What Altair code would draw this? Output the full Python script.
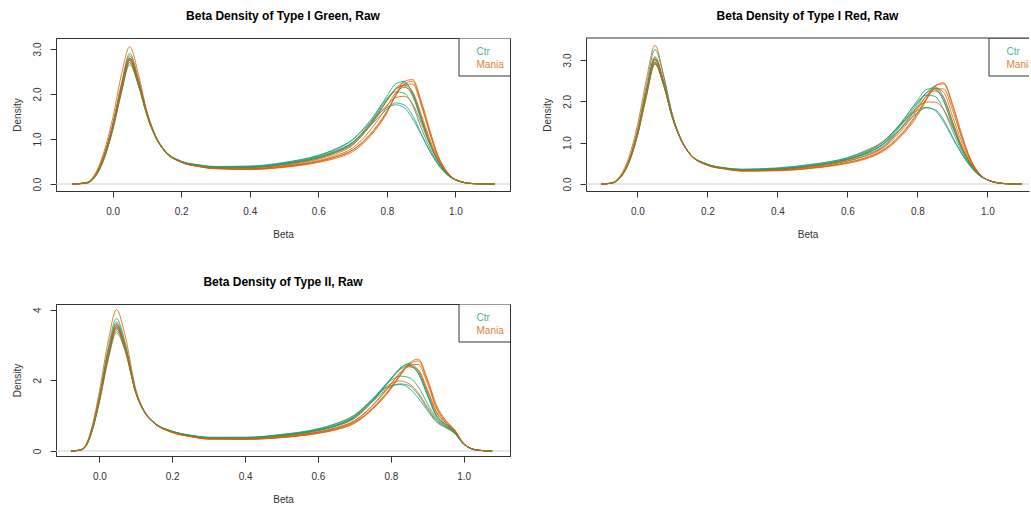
import altair as alt
import pandas as pd

FONT = "Liberation Sans"
GROUPS = ["Ctr", "Mania"]
COLORS = ["#1B9E77", "#D95F02"]
X_TICKS = [0.0, 0.2, 0.4, 0.6, 0.8, 1.0]

# ---------- Panel 1: Type I Green ----------
X_GREEN = [-0.117, -0.075, -0.05, -0.025, 0.0, 0.025, 0.05, 0.075, 0.1, 0.125, 0.15, 0.2, 0.25, 0.3, 0.4,
           0.5, 0.6, 0.65, 0.7, 0.75, 0.8, 0.825, 0.85, 0.875, 0.9, 0.925, 0.95, 0.975, 1.0, 1.05, 1.115]
GREEN_CTR = [
    [0, 0.03, 0.18, 0.58, 1.22, 2.05, 2.7, 2.2, 1.52, 1.04, 0.75, 0.5, 0.42, 0.38, 0.39, 0.46, 0.61, 0.74, 0.93, 1.33, 1.88, 2.1, 2.18, 1.95, 1.42, 0.9, 0.5, 0.24, 0.1, 0.01, 0],
    [0, 0.03, 0.2, 0.64, 1.32, 2.2, 2.9, 2.35, 1.6, 1.08, 0.77, 0.5, 0.42, 0.38, 0.38, 0.45, 0.6, 0.72, 0.92, 1.28, 1.66, 1.8, 1.76, 1.52, 1.12, 0.73, 0.42, 0.21, 0.09, 0.01, 0],
    [0, 0.02, 0.17, 0.55, 1.18, 2.0, 2.65, 2.2, 1.54, 1.06, 0.76, 0.5, 0.41, 0.37, 0.37, 0.44, 0.58, 0.7, 0.88, 1.28, 1.85, 2.12, 2.25, 2.02, 1.48, 0.92, 0.5, 0.23, 0.09, 0.01, 0],
    [0, 0.03, 0.19, 0.6, 1.26, 2.12, 2.8, 2.28, 1.56, 1.05, 0.74, 0.49, 0.41, 0.37, 0.38, 0.47, 0.63, 0.77, 0.98, 1.4, 1.9, 2.05, 2.02, 1.75, 1.25, 0.8, 0.45, 0.22, 0.09, 0.01, 0],
    [0, 0.02, 0.18, 0.57, 1.22, 2.06, 2.75, 2.25, 1.55, 1.06, 0.76, 0.51, 0.43, 0.39, 0.4, 0.48, 0.64, 0.78, 0.99, 1.36, 1.7, 1.76, 1.7, 1.45, 1.1, 0.74, 0.44, 0.22, 0.1, 0.01, 0],
    [0, 0.03, 0.19, 0.6, 1.25, 2.1, 2.78, 2.26, 1.55, 1.05, 0.75, 0.5, 0.41, 0.37, 0.37, 0.44, 0.59, 0.72, 0.92, 1.35, 1.95, 2.22, 2.28, 2.0, 1.45, 0.9, 0.5, 0.24, 0.1, 0.01, 0],
]
GREEN_MANIA = [
    [0, 0.04, 0.24, 0.72, 1.45, 2.4, 3.05, 2.45, 1.62, 1.08, 0.76, 0.48, 0.39, 0.34, 0.33, 0.39, 0.5, 0.6, 0.75, 1.08, 1.6, 1.95, 2.22, 2.28, 1.8, 1.15, 0.6, 0.27, 0.1, 0.01, 0],
    [0, 0.03, 0.2, 0.62, 1.28, 2.15, 2.8, 2.3, 1.58, 1.07, 0.76, 0.49, 0.39, 0.34, 0.32, 0.37, 0.48, 0.57, 0.72, 1.05, 1.58, 1.98, 2.28, 2.32, 1.85, 1.2, 0.62, 0.28, 0.1, 0.01, 0],
    [0, 0.02, 0.17, 0.56, 1.2, 2.02, 2.7, 2.22, 1.54, 1.05, 0.75, 0.49, 0.4, 0.35, 0.34, 0.4, 0.52, 0.63, 0.8, 1.18, 1.72, 2.02, 2.15, 2.0, 1.48, 0.94, 0.52, 0.24, 0.09, 0.01, 0],
    [0, 0.03, 0.21, 0.64, 1.3, 2.18, 2.85, 2.32, 1.58, 1.06, 0.75, 0.49, 0.4, 0.36, 0.36, 0.43, 0.57, 0.7, 0.9, 1.3, 1.75, 1.92, 1.95, 1.78, 1.35, 0.88, 0.5, 0.24, 0.1, 0.01, 0],
    [0, 0.02, 0.18, 0.58, 1.23, 2.07, 2.75, 2.26, 1.56, 1.06, 0.76, 0.5, 0.4, 0.35, 0.33, 0.38, 0.5, 0.6, 0.76, 1.1, 1.62, 1.96, 2.2, 2.22, 1.75, 1.12, 0.58, 0.26, 0.1, 0.01, 0],
    [0, 0.03, 0.2, 0.62, 1.27, 2.12, 2.78, 2.28, 1.57, 1.06, 0.75, 0.49, 0.39, 0.35, 0.34, 0.41, 0.55, 0.67, 0.86, 1.3, 1.85, 2.1, 2.2, 2.05, 1.55, 1.0, 0.55, 0.25, 0.1, 0.01, 0],
]

# ---------- Panel 2: Type I Red ----------
X_RED = [-0.103, -0.075, -0.05, -0.025, 0.0, 0.025, 0.05, 0.075, 0.1, 0.125, 0.15, 0.2, 0.25, 0.3, 0.4,
         0.5, 0.6, 0.65, 0.7, 0.75, 0.8, 0.825, 0.85, 0.875, 0.9, 0.925, 0.95, 0.975, 1.0, 1.05, 1.097]
RED_CTR = [
    [0, 0.02, 0.15, 0.52, 1.2, 2.15, 2.95, 2.4, 1.6, 1.05, 0.72, 0.47, 0.38, 0.34, 0.37, 0.45, 0.6, 0.74, 0.95, 1.38, 1.95, 2.2, 2.28, 2.02, 1.45, 0.9, 0.5, 0.24, 0.1, 0.01, 0],
    [0, 0.02, 0.16, 0.56, 1.3, 2.35, 3.25, 2.6, 1.68, 1.08, 0.73, 0.47, 0.38, 0.34, 0.36, 0.44, 0.6, 0.73, 0.94, 1.32, 1.72, 1.84, 1.8, 1.55, 1.15, 0.76, 0.44, 0.22, 0.1, 0.01, 0],
    [0, 0.02, 0.14, 0.5, 1.16, 2.1, 2.9, 2.38, 1.6, 1.06, 0.73, 0.48, 0.39, 0.35, 0.37, 0.44, 0.58, 0.71, 0.9, 1.32, 1.9, 2.2, 2.35, 2.1, 1.52, 0.94, 0.52, 0.24, 0.1, 0.01, 0],
    [0, 0.02, 0.15, 0.53, 1.22, 2.2, 3.02, 2.44, 1.62, 1.06, 0.72, 0.47, 0.38, 0.35, 0.38, 0.47, 0.63, 0.78, 1.0, 1.45, 1.98, 2.15, 2.12, 1.8, 1.3, 0.82, 0.47, 0.23, 0.1, 0.01, 0],
    [0, 0.02, 0.15, 0.52, 1.2, 2.14, 2.92, 2.4, 1.6, 1.06, 0.73, 0.48, 0.39, 0.36, 0.39, 0.48, 0.64, 0.8, 1.02, 1.42, 1.78, 1.85, 1.78, 1.5, 1.12, 0.75, 0.45, 0.22, 0.1, 0.01, 0],
    [0, 0.02, 0.15, 0.54, 1.24, 2.22, 3.05, 2.46, 1.63, 1.07, 0.73, 0.47, 0.38, 0.34, 0.36, 0.44, 0.6, 0.74, 0.96, 1.42, 2.02, 2.28, 2.32, 2.0, 1.42, 0.88, 0.49, 0.23, 0.1, 0.01, 0],
]
RED_MANIA = [
    [0, 0.03, 0.19, 0.64, 1.42, 2.5, 3.35, 2.62, 1.66, 1.06, 0.72, 0.45, 0.36, 0.31, 0.32, 0.38, 0.5, 0.6, 0.78, 1.12, 1.65, 2.02, 2.35, 2.45, 1.95, 1.25, 0.64, 0.28, 0.1, 0.01, 0],
    [0, 0.02, 0.15, 0.53, 1.22, 2.18, 3.0, 2.45, 1.63, 1.07, 0.73, 0.46, 0.37, 0.32, 0.33, 0.39, 0.51, 0.62, 0.8, 1.15, 1.7, 2.05, 2.38, 2.42, 1.9, 1.2, 0.62, 0.27, 0.1, 0.01, 0],
    [0, 0.02, 0.14, 0.5, 1.17, 2.1, 2.9, 2.38, 1.6, 1.06, 0.73, 0.47, 0.38, 0.33, 0.35, 0.42, 0.56, 0.68, 0.88, 1.3, 1.85, 2.12, 2.25, 2.08, 1.52, 0.95, 0.53, 0.25, 0.1, 0.01, 0],
    [0, 0.02, 0.16, 0.55, 1.25, 2.25, 3.08, 2.48, 1.64, 1.07, 0.73, 0.46, 0.37, 0.33, 0.35, 0.44, 0.6, 0.76, 1.0, 1.42, 1.85, 1.98, 1.98, 1.8, 1.38, 0.9, 0.52, 0.25, 0.1, 0.01, 0],
    [0, 0.02, 0.15, 0.52, 1.2, 2.15, 2.95, 2.42, 1.62, 1.06, 0.72, 0.46, 0.37, 0.32, 0.33, 0.39, 0.52, 0.63, 0.82, 1.18, 1.72, 2.05, 2.3, 2.3, 1.8, 1.15, 0.6, 0.27, 0.1, 0.01, 0],
    [0, 0.02, 0.16, 0.54, 1.23, 2.2, 3.02, 2.45, 1.63, 1.07, 0.73, 0.46, 0.37, 0.32, 0.34, 0.41, 0.55, 0.67, 0.86, 1.25, 1.8, 2.12, 2.32, 2.22, 1.65, 1.05, 0.56, 0.26, 0.1, 0.01, 0],
]

# ---------- Panel 3: Type II ----------
X_TYPE2 = [-0.078, -0.055, -0.04, -0.02, 0.0, 0.025, 0.047, 0.07, 0.1, 0.125, 0.15, 0.2, 0.25, 0.3, 0.4,
           0.5, 0.6, 0.65, 0.7, 0.75, 0.8, 0.825, 0.85, 0.875, 0.9, 0.925, 0.95, 0.975, 1.0, 1.04, 1.078]
TYPE2_CTR = [
    [0, 0.02, 0.1, 0.58, 1.42, 2.7, 3.45, 2.92, 1.65, 1.08, 0.8, 0.55, 0.44, 0.38, 0.38, 0.45, 0.6, 0.74, 0.97, 1.45, 2.05, 2.3, 2.42, 2.2, 1.6, 1.0, 0.75, 0.54, 0.2, 0.02, 0],
    [0, 0.02, 0.11, 0.64, 1.55, 2.95, 3.75, 3.1, 1.7, 1.1, 0.81, 0.55, 0.44, 0.38, 0.37, 0.44, 0.59, 0.72, 0.95, 1.4, 1.82, 1.9, 1.85, 1.6, 1.2, 0.85, 0.68, 0.5, 0.19, 0.02, 0],
    [0, 0.02, 0.1, 0.56, 1.38, 2.62, 3.35, 2.85, 1.64, 1.08, 0.8, 0.56, 0.44, 0.38, 0.37, 0.43, 0.57, 0.7, 0.92, 1.4, 2.02, 2.32, 2.48, 2.28, 1.65, 1.02, 0.76, 0.55, 0.2, 0.02, 0],
    [0, 0.02, 0.1, 0.6, 1.46, 2.78, 3.55, 2.98, 1.66, 1.08, 0.8, 0.55, 0.43, 0.38, 0.38, 0.46, 0.62, 0.77, 1.0, 1.48, 2.0, 2.12, 2.08, 1.82, 1.35, 0.92, 0.72, 0.52, 0.2, 0.02, 0],
    [0, 0.02, 0.1, 0.58, 1.43, 2.72, 3.48, 2.94, 1.66, 1.09, 0.81, 0.56, 0.45, 0.39, 0.39, 0.47, 0.63, 0.78, 1.02, 1.46, 1.85, 1.88, 1.78, 1.5, 1.15, 0.82, 0.66, 0.5, 0.19, 0.02, 0],
    [0, 0.02, 0.11, 0.62, 1.5, 2.85, 3.65, 3.02, 1.67, 1.09, 0.8, 0.55, 0.43, 0.37, 0.37, 0.44, 0.59, 0.72, 0.94, 1.42, 2.05, 2.35, 2.45, 2.2, 1.58, 0.98, 0.74, 0.53, 0.2, 0.02, 0],
]
TYPE2_MANIA = [
    [0, 0.03, 0.13, 0.7, 1.68, 3.15, 4.0, 3.3, 1.75, 1.1, 0.8, 0.52, 0.41, 0.34, 0.33, 0.38, 0.5, 0.6, 0.78, 1.18, 1.75, 2.12, 2.45, 2.55, 2.0, 1.25, 0.85, 0.6, 0.21, 0.02, 0],
    [0, 0.02, 0.1, 0.6, 1.45, 2.75, 3.5, 2.95, 1.66, 1.08, 0.79, 0.53, 0.41, 0.34, 0.33, 0.38, 0.5, 0.61, 0.8, 1.2, 1.78, 2.15, 2.48, 2.6, 2.05, 1.3, 0.88, 0.6, 0.21, 0.02, 0],
    [0, 0.02, 0.1, 0.57, 1.4, 2.66, 3.4, 2.88, 1.64, 1.08, 0.8, 0.54, 0.42, 0.36, 0.35, 0.41, 0.54, 0.66, 0.86, 1.3, 1.9, 2.2, 2.38, 2.25, 1.7, 1.08, 0.8, 0.56, 0.2, 0.02, 0],
    [0, 0.02, 0.11, 0.62, 1.5, 2.82, 3.6, 3.0, 1.68, 1.09, 0.8, 0.53, 0.42, 0.35, 0.35, 0.42, 0.58, 0.72, 0.98, 1.45, 1.9, 1.98, 1.9, 1.65, 1.25, 0.88, 0.7, 0.52, 0.2, 0.02, 0],
    [0, 0.02, 0.1, 0.59, 1.44, 2.74, 3.52, 2.96, 1.66, 1.08, 0.79, 0.53, 0.41, 0.34, 0.34, 0.39, 0.52, 0.63, 0.82, 1.22, 1.8, 2.15, 2.42, 2.45, 1.92, 1.2, 0.82, 0.58, 0.21, 0.02, 0],
    [0, 0.02, 0.11, 0.61, 1.48, 2.8, 3.58, 2.98, 1.67, 1.09, 0.8, 0.54, 0.42, 0.35, 0.34, 0.4, 0.53, 0.65, 0.85, 1.28, 1.88, 2.22, 2.4, 2.3, 1.75, 1.12, 0.8, 0.57, 0.2, 0.02, 0],
]


def long_table(xs, ctr, mania):
    rows = []
    k = 0
    for i in range(max(len(ctr), len(mania))):
        for grp, curves in (("Ctr", ctr), ("Mania", mania)):
            if i < len(curves):
                for xv, yv in zip(xs, curves[i]):
                    rows.append({"beta": xv, "density": yv, "group": grp, "curve": k})
                k += 1
    return pd.DataFrame(rows)


ONE = pd.DataFrame({"k": [0]})


def panel(title, df, xdom, ydom, yvals, ylab_expr, w, h, cut=False):
    xenc = alt.X("beta:Q", scale=alt.Scale(domain=xdom, nice=False, zero=False),
                 axis=alt.Axis(values=X_TICKS, format=".1f", title="Beta"))
    yenc = alt.Y("density:Q", scale=alt.Scale(domain=ydom, nice=False, zero=False),
                 axis=alt.Axis(values=yvals, labelExpr=ylab_expr, title="Density"))
    zero = alt.Chart(ONE).mark_rule(color="#d0d0d0", strokeWidth=1).encode(y=alt.datum(0))
    lines = alt.Chart(df).mark_line(strokeWidth=1, opacity=0.8, interpolate="monotone", clip=True).encode(
        x=xenc, y=yenc,
        color=alt.Color("group:N", scale=alt.Scale(domain=GROUPS, range=COLORS), legend=None),
        detail="curve:N",
    )
    box = alt.Chart(ONE).mark_rect(fill="white", stroke="#333333", strokeWidth=1, clip=True).encode(
        x=alt.value(403), x2=alt.value(455), y=alt.value(0), y2=alt.value(38))
    t1 = alt.Chart(ONE).mark_text(text="Ctr", align="left", baseline="middle", font=FONT, fontSize=10,
                                  color=COLORS[0], opacity=0.8, clip=True).encode(
        x=alt.value(420.5), y=alt.value(14))
    t2 = alt.Chart(ONE).mark_text(text="Mania", align="left", baseline="middle", font=FONT, fontSize=10,
                                  color=COLORS[1], opacity=0.8, clip=True).encode(
        x=alt.value(420.5), y=alt.value(26.5))
    layers = [zero, lines, box, t1, t2]
    if cut:
        top = alt.Chart(ONE).mark_rule(color="#333333", strokeWidth=1).encode(
            x=alt.value(0), x2=alt.value(w), y=alt.value(0))
        layers.append(top)
    ch = alt.layer(*layers).properties(
        width=w, height=h,
        title=alt.TitleParams(title, fontSize=12, fontWeight="bold", font=FONT, color="#000000",
                              anchor="middle", baseline="bottom", offset=3),
    )
    if cut:
        ch = ch.properties(view=alt.ViewBackground(stroke="transparent"))
    return ch


p1 = panel("Beta Density of Type I Green, Raw", long_table(X_GREEN, GREEN_CTR, GREEN_MANIA),
           [-0.165, 1.159], [-0.155, 3.244], [0, 0.5, 1.0, 1.5, 2.0, 2.5, 3.0],
           "format(datum.value, '.1f')", 454, 153)
p2 = panel("Beta Density of Type I Red, Raw", long_table(X_RED, RED_CTR, RED_MANIA),
           [-0.147, 1.119], [-0.169, 3.53], [0, 0.5, 1.0, 1.5, 2.0, 2.5, 3.0, 3.5],
           "datum.value % 1 == 0 ? format(datum.value, '.1f') : ''", 443, 153, cut=True)
p3 = panel("Beta Density of Type II, Raw", long_table(X_TYPE2, TYPE2_CTR, TYPE2_MANIA),
           [-0.119, 1.127], [-0.142, 4.16], [0, 1, 2, 3, 4],
           "format(datum.value, 'd')", 454, 152)

chart = alt.concat(p1, p2, p3, columns=2, spacing={"row": 113, "column": 76}, bounds="flush").properties(
    padding={"left": 11, "top": 9, "right": 0, "bottom": 0}
).configure_view(
    stroke="#333333", strokeWidth=1
).configure_axis(
    domain=True, domainColor="#333333", grid=False, ticks=True, tickColor="#333333", tickSize=6,
    labelFont=FONT, labelFontSize=10, labelColor="#333333",
    titleFont=FONT, titleFontSize=10, titleFontWeight="normal", titleColor="#333333",
).configure_axisX(
    labelPadding=9, titlePadding=13, labelAngle=0, labelBaseline="top", titleBaseline="top",
).configure_axisY(
    labelPadding=8, titlePadding=10, labelAngle=270, labelAlign="center", labelBaseline="bottom",
    titleAngle=270, titleBaseline="bottom",
)

chart.save("out.html", embed_options={"renderer": "svg", "actions": False})
